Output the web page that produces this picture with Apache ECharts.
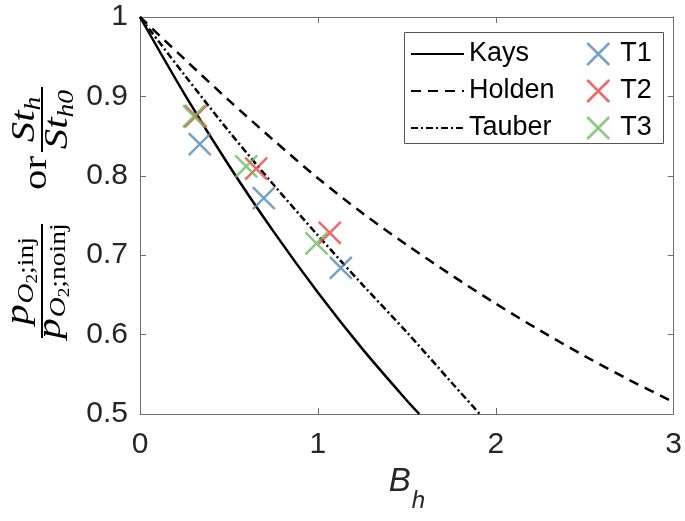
<!DOCTYPE html>
<html>
<head>
<meta charset="utf-8">
<script src="https://cdn.jsdelivr.net/npm/echarts@6/dist/echarts.min.js"></script>
<style>
  html, body { margin: 0; padding: 0; background: #fff; }
  #chart { width: 685px; height: 521px; }
</style>
</head>
<body>
<div id="chart"></div>
<script>
// Blowing parameter B_h and the normalised Stanton number of each correlation
const kaysB     = [0, 0.25, 0.5, 0.75, 1.0, 1.25, 1.5, 1.57];
const kaysSt    = [1, 0.903, 0.813, 0.730, 0.653, 0.582, 0.517, 0.5];
const holdenB   = [0, 0.25, 0.5, 0.75, 1.0, 1.25, 1.5, 1.75, 2.0, 2.25, 2.5, 2.75, 3.0];
const holdenSt  = [1, 0.947, 0.895, 0.845, 0.797, 0.753, 0.713, 0.675, 0.639, 0.605, 0.573, 0.543, 0.515];
const tauberB   = [0, 0.25, 0.5, 0.75, 1.0, 1.25, 1.5, 1.75, 1.91];
const tauberSt  = [1, 0.927, 0.856, 0.789, 0.725, 0.663, 0.603, 0.540, 0.5];

// Measured oxygen partial-pressure ratios for the three test runs
const t1B = [0.336, 0.696, 1.129];
const t1P = [0.840, 0.772, 0.684];
const t2B = [0.313, 0.653, 1.067];
const t2P = [0.875, 0.809, 0.728];
const t3B = [0.304, 0.597, 0.992];
const t3P = [0.875, 0.812, 0.715];

const xTicks = [0, 1, 2, 3];
const yTicks = [0.5, 0.6, 0.7, 0.8, 0.9, 1];

const lineNames = ['Kays', 'Holden', 'Tauber'];
const testNames = ['T1', 'T2', 'T3'];
const testColors = ['#5289BA', '#EC4343', '#6CBE5E'];

const pairs = (xs, ys) => xs.map((x, i) => [x, ys[i]]);
const crossPath = 'path://M0,0L20,20M20,0L0,20';
const axisGrey = '#6e6e6e';
const sans = '"Liberation Sans", Arial, Helvetica, sans-serif';
const serif = '"Liberation Serif", "Times New Roman", serif';

// ---- vertical y-axis label: p_{O2;inj}/p_{O2;noinj}  or  St_h/St_h0 ----
// Pieces run along the reading direction (bottom to top on screen).
// u = distance upward from the anchor, v = baseline offset to the right of it.
const anchorX = 42, anchorY = 215;
const SX = 1.2;          // widen the serif glyphs a little, like a math font
const MID = 0.28;        // distance from the em middle down to the baseline, in em
const mctx = document.createElement('canvas').getContext('2d');
const fontOf = p => (p.it ? 'italic ' : '') + p.s + 'px ' + serif;
const advance = p => { mctx.font = fontOf(p); return mctx.measureText(p.t).width * SX + (p.k || 0); };
function runEls(parts, uc, base) {
  const w = parts.reduce((a, p) => a + advance(p), 0);
  let u = uc - w / 2;
  const els = [];
  parts.forEach(p => {
    els.push({
      type: 'text', silent: true,
      x: anchorX + base + (p.b || 0) - MID * p.s,
      y: anchorY - u,
      rotation: Math.PI / 2, scaleX: SX, scaleY: 1,
      style: {text: p.t, x: 0, y: 0, font: fontOf(p), fill: '#000',
              textAlign: 'left', verticalAlign: 'middle'}
    });
    u += advance(p);
  });
  return els;
}
function barEl(uc, len) {
  return {type: 'rect', silent: true,
          shape: {x: anchorX - 1, y: anchorY - uc - len / 2, width: 2, height: len},
          style: {fill: '#000'}};
}
const M = 34, S1 = 23, S2 = 16;
const numP = [{t: 'p', s: M, it: 1, k: 1}, {t: 'O', s: S1, it: 1, b: 5}, {t: '2', s: S2, b: 9}, {t: ';inj', s: S1, b: 5}];
const denP = [{t: 'p', s: M, it: 1, k: 1}, {t: 'O', s: S1, it: 1, b: 5}, {t: '2', s: S2, b: 9}, {t: ';noinj', s: S1, b: 5}];
const numS = [{t: 'St', s: M, it: 1}, {t: 'h', s: S1, it: 1, b: 5}];
const denS = [{t: 'St', s: M, it: 1}, {t: 'h0', s: S1, it: 1, b: 6}];

const f1c = -66, f1len = 114, f2c = 95.5, f2len = 65;
const yLabelEls = [].concat(
  runEls(numP, f1c, -13.4),
  runEls(denP, f1c, 18.6),
  [barEl(f1c, f1len)],
  runEls([{t: 'or', s: 34}], 42, 5),
  runEls(numS, f2c, -7),
  runEls(denS, f2c, 25.4),
  [barEl(f2c, f2len)]
);

const chart = echarts.init(document.getElementById('chart'), null, {renderer: 'canvas'});

const lineSeries = [
  {name: 'Kays',   data: pairs(kaysB, kaysSt),     type: 'solid'},
  {name: 'Holden', data: pairs(holdenB, holdenSt), type: [10, 7]},
  {name: 'Tauber', data: pairs(tauberB, tauberSt), type: [7, 3, 2, 3]}
].map(d => ({
  name: d.name, type: 'line', data: d.data, smooth: 0.3,
  symbol: 'none', silent: true, z: 2,
  itemStyle: {color: '#000'},
  lineStyle: {color: '#000', width: 2.5, type: d.type}
}));

const testSeries = [[t1B, t1P], [t2B, t2P], [t3B, t3P]].map((d, i) => ({
  name: testNames[i], type: 'scatter', data: pairs(d[0], d[1]),
  symbol: crossPath, symbolSize: 22, silent: true, z: 3,
  itemStyle: {color: 'rgba(0,0,0,0)', borderColor: testColors[i], borderWidth: 2.5}
}));

const baseX = {
  type: 'value', min: 0, max: 3, interval: 1,
  axisLine: {show: true, onZero: false, lineStyle: {color: axisGrey, width: 1}},
  axisTick: {show: true, inside: true, length: 6, lineStyle: {color: axisGrey, width: 1}},
  splitLine: {show: false}
};
const baseY = {
  type: 'value', min: 0.5, max: 1, interval: 0.1,
  axisLine: {show: true, onZero: false, lineStyle: {color: axisGrey, width: 1}},
  axisTick: {show: true, inside: true, length: 6, lineStyle: {color: axisGrey, width: 1}},
  splitLine: {show: false}
};

chart.setOption({
  animation: false,
  backgroundColor: '#fff',
  grid: {left: 140, top: 17, right: 9, bottom: 107, containLabel: false},
  xAxis: [
    Object.assign({}, baseX, {
      position: 'bottom',
      axisLabel: {fontSize: 30, fontFamily: sans, color: '#262626', margin: 16,
                  formatter: v => xTicks.includes(v) ? String(v) : ''},
      name: '{b|B}{s|h}', nameLocation: 'middle', nameGap: 15,
      nameTextStyle: {
        rich: {
          b: {fontSize: 33, fontFamily: sans, fontStyle: 'italic', color: '#262626'},
          s: {fontSize: 24, fontFamily: sans, fontStyle: 'italic', color: '#262626', padding: [40, 0, 0, 1]}
        }
      }
    }),
    Object.assign({}, baseX, {position: 'top', axisLabel: {show: false}})
  ],
  yAxis: [
    Object.assign({}, baseY, {
      position: 'left',
      axisLabel: {fontSize: 30, fontFamily: sans, color: '#262626', margin: 12,
                  formatter: v => { const r = Math.round(v * 10) / 10; return yTicks.includes(r) ? (r === 1 ? '1' : r.toFixed(1)) : ''; }}
    }),
    Object.assign({}, baseY, {position: 'right', axisLabel: {show: false}})
  ],
  legend: [
    {
      data: lineNames, orient: 'vertical', left: 410, top: 39, padding: 0,
      itemWidth: 53, itemHeight: 22, itemGap: 7, selectedMode: false,
      itemStyle: {opacity: 0},
      textStyle: {fontSize: 27, fontFamily: sans, color: '#000', lineHeight: 30}
    },
    {
      data: testNames.map((n, i) => ({
        name: n, icon: crossPath,
        itemStyle: {color: 'rgba(0,0,0,0)', borderColor: testColors[i], borderWidth: 2.5}
      })),
      orient: 'vertical', left: 586, top: 39, padding: 0,
      itemWidth: 22, itemHeight: 22, itemGap: 7, selectedMode: false,
      textStyle: {fontSize: 27, fontFamily: sans, color: '#000', lineHeight: 30, padding: [0, 0, 0, 6]}
    }
  ],
  graphic: [
    {type: 'rect', left: 404, top: 32, z: -1, silent: true,
     shape: {width: 259, height: 111}, style: {fill: '#fff', stroke: '#555', lineWidth: 1}}
  ].concat(yLabelEls),
  series: lineSeries.concat(testSeries)
});
</script>
</body>
</html>
